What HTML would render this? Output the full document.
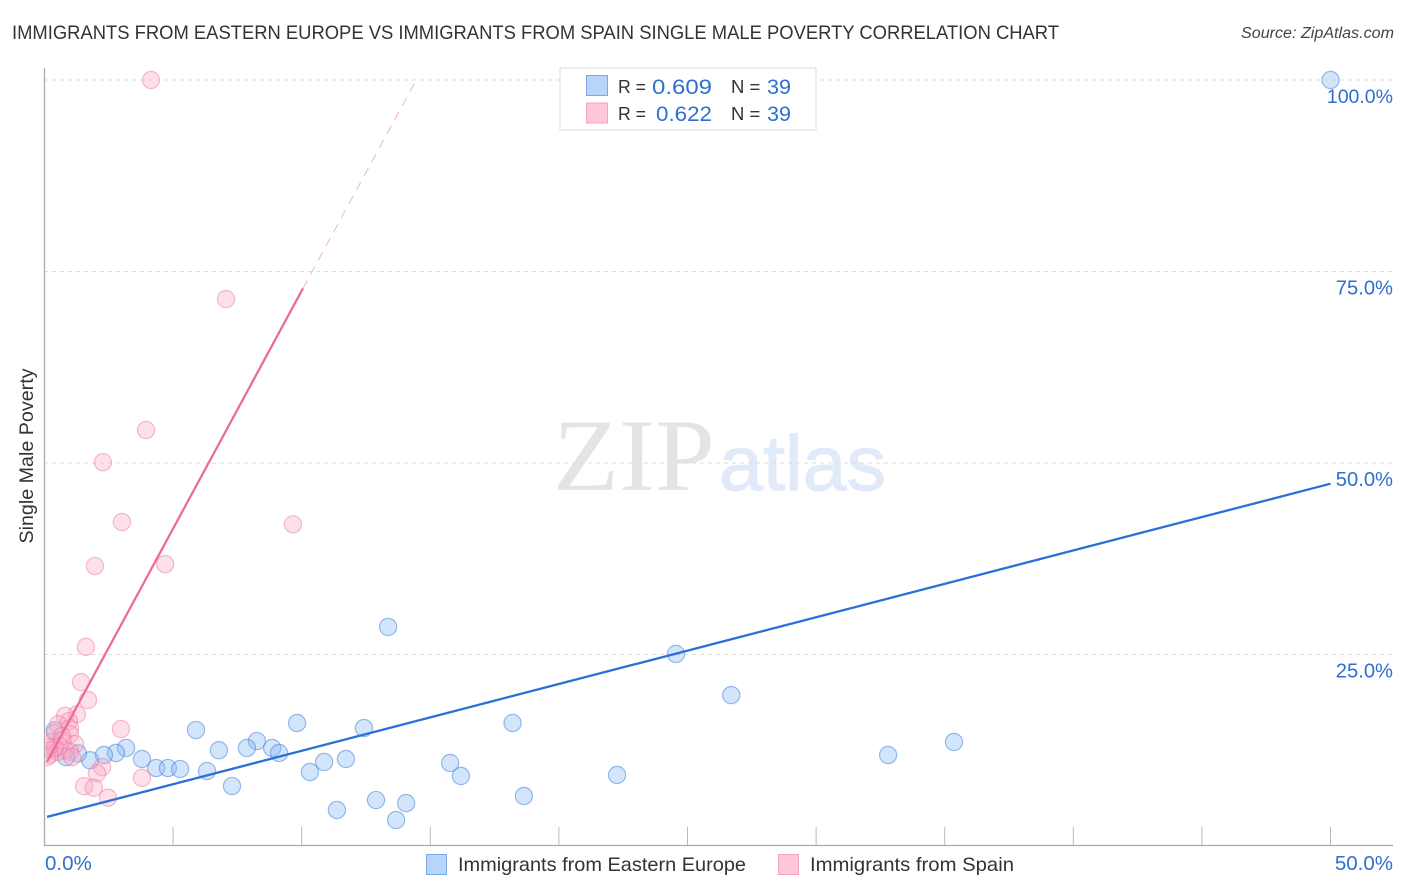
<!DOCTYPE html>
<html>
<head>
<meta charset="utf-8">
<style>
html,body{margin:0;padding:0;background:#fff;width:1406px;height:892px;overflow:hidden}
svg{display:block}
text{font-family:"Liberation Sans",sans-serif}
</style>
</head>
<body>
<svg id="chart" width="1406" height="892" viewBox="0 0 1406 892" xmlns="http://www.w3.org/2000/svg">
<defs><clipPath id="plot-clip"><rect x="45.5" y="60" width="1360" height="790"/></clipPath></defs>
<text x="12" y="39" font-size="19.5" fill="#333" textLength="1047" lengthAdjust="spacingAndGlyphs">IMMIGRANTS FROM EASTERN EUROPE VS IMMIGRANTS FROM SPAIN SINGLE MALE POVERTY CORRELATION CHART</text>
<text x="1394" y="38" font-size="15.5" font-style="italic" fill="#444" text-anchor="end" textLength="153" lengthAdjust="spacingAndGlyphs">Source: ZipAtlas.com</text>
<g id="watermark">
<text x="553" y="490" font-size="103" fill="#e4e4e4" textLength="162" lengthAdjust="spacingAndGlyphs" style="font-family:'Liberation Serif',serif">ZIP</text>
<text x="719" y="490" font-size="78" fill="#e0eaf8" stroke="#e0eaf8" stroke-width="1" textLength="167" lengthAdjust="spacingAndGlyphs">atlas</text>
</g>
<g id="grid"></g>
<g id="axes"></g>
<g id="series" clip-path="url(#plot-clip)"></g>
<g id="labels"></g>
<text transform="translate(33,456) rotate(-90)" font-size="19.7" fill="#333" text-anchor="middle">Single Male Poverty</text>
<g>
<rect x="560" y="68" width="256" height="62" fill="#fff" stroke="#ddd" stroke-width="1"/>
<rect x="586.5" y="75.5" width="21" height="20" fill="#b8d4f8" stroke="#7aa9e6"/>
<rect x="586.5" y="103" width="21" height="20" fill="#fcc8da" stroke="#f4a3bf"/>
<text x="618" y="93" font-size="18.5" fill="#333" textLength="28" lengthAdjust="spacingAndGlyphs">R =</text>
<text x="652" y="94" font-size="21.5" fill="#2f6fd0" textLength="60" lengthAdjust="spacingAndGlyphs">0.609</text>
<text x="731" y="93" font-size="18.5" fill="#333">N =</text>
<text x="767" y="94" font-size="21.5" fill="#2f6fd0" textLength="24" lengthAdjust="spacingAndGlyphs">39</text>
<text x="618" y="120" font-size="18.5" fill="#333" textLength="28" lengthAdjust="spacingAndGlyphs">R =</text>
<text x="656" y="121" font-size="21.5" fill="#2f6fd0" textLength="56" lengthAdjust="spacingAndGlyphs">0.622</text>
<text x="731" y="120" font-size="18.5" fill="#333">N =</text>
<text x="767" y="121" font-size="21.5" fill="#2f6fd0" textLength="24" lengthAdjust="spacingAndGlyphs">39</text>
</g>
<g>
<rect x="426.5" y="854.5" width="20" height="20" fill="#b8d4f8" stroke="#7aa9e6"/>
<text x="458" y="871" font-size="19.5" fill="#333" textLength="288" lengthAdjust="spacingAndGlyphs">Immigrants from Eastern Europe</text>
<rect x="778.5" y="854.5" width="20" height="20" fill="#fcc8da" stroke="#f4a3bf"/>
<text x="810" y="871" font-size="19.5" fill="#333" textLength="204" lengthAdjust="spacingAndGlyphs">Immigrants from Spain</text>
</g>
</svg>
<script>
var yTickValues = [25, 50, 75, 100];
var yTickLabels = ["25.0%", "50.0%", "75.0%", "100.0%"];
var xTickValues = [5, 10, 15, 20, 25, 30, 35, 40, 45, 50];
var xEndLabels = ["0.0%", "50.0%"];
var blueX = [50, 13.36, 24.55, 26.7, 18.2, 9.82, 5.89, 12.42, 35.36, 32.8, 8.26, 8.85, 7.87, 6.78, 9.12, 3.17, 2.78, 2.31, 3.79, 11.72, 10.87, 15.77, 4.34, 4.8, 5.27, 6.32, 10.32, 16.19, 22.26, 7.29, 18.64, 12.89, 14.06, 11.37, 13.67, 1.77, 1.3, 0.84, 0.4];
var blueY = [100, 28.6, 25.07, 19.7, 16.06, 16.06, 15.14, 15.4, 13.58, 11.88, 13.7, 12.8, 12.8, 12.5, 12.14, 12.8, 12.14, 11.88, 11.36, 11.36, 10.97, 10.84, 10.18, 10.18, 10.05, 9.79, 9.66, 9.14, 9.27, 7.83, 6.53, 6.0, 5.6, 4.7, 3.39, 11.2, 12.1, 11.6, 15.1];
var pinkX = [4.14, 7.06, 3.95, 2.27, 3.01, 9.66, 1.96, 4.69, 1.61, 1.42, 1.69, 2.97, 1.26, 0.8, 0.95, 0.53, 0.99, 0.99, 0.41, 0.68, 1.19, 0.29, 0.6, 0.21, 0.8, 0.53, 0.21, 0.99, 0.1, 1.07, 2.24, 2.04, 3.79, 1.54, 1.92, 2.47, 0.4, 0.15, 0.7];
var pinkY = [100, 71.4, 54.3, 50.1, 42.3, 42, 36.55, 36.8, 26, 21.4, 19.06, 15.27, 17.2, 17, 16.3, 15.9, 15.4, 14.6, 14.75, 14.36, 13.3, 13.6, 13.05, 12.5, 12.5, 12.3, 11.9, 12.3, 11.6, 11.6, 10.3, 9.5, 8.9, 7.8, 7.6, 6.3, 12.8, 12.9, 13.8];
var blueTrendX = [0.1, 50];
var blueTrendY = [3.8, 47.3];
var pinkTrendX = [0.1, 10.05];
var pinkTrendY = [11, 72.8];
var pinkDashX = [10.05, 14.5];
var pinkDashY = [72.8, 100.3];

var NS = 'http://www.w3.org/2000/svg';
function xScale(v) { return 44.5 + v * 25.72; }
function yScale(v) { return 846 - v * 7.66; }
function make(parent, tag, attrs, text) {
  var el = document.createElementNS(NS, tag);
  for (var k in attrs) el.setAttribute(k, attrs[k]);
  if (text !== undefined) el.textContent = text;
  document.getElementById(parent).appendChild(el);
  return el;
}
yTickValues.forEach(function (v, i) {
  var gl = make('grid', 'line', {x1: 44, x2: 1393, y1: yScale(v), y2: yScale(v), stroke: '#dcdcdc', 'stroke-width': 1, 'stroke-dasharray': '4 4'});
  
  
  var tl = make('labels', 'text', {x: 1393, y: yScale(v) + 23, 'font-size': v === 100 ? 19.5 : 20.2, fill: '#2f6fd0', 'text-anchor': 'end'}, yTickLabels[i]);
  
  
});
var la = make('axes', 'line', {x1: 44.5, x2: 44.5, y1: 68, y2: 845.5, stroke: '#aaa', 'stroke-width': 1.3});


var ba = make('axes', 'line', {x1: 44, x2: 1393, y1: 845.5, y2: 845.5, stroke: '#aaa', 'stroke-width': 1.3});


xTickValues.forEach(function (v) {
  var t = make('axes', 'line', {x1: xScale(v), x2: xScale(v), y1: 827, y2: 845, stroke: '#bbb', 'stroke-width': 1});
  
  
});
var xl0 = make('labels', 'text', {x: 45, y: 870, 'font-size': 20.5, fill: '#2f6fd0'}, xEndLabels[0]);


var xl1 = make('labels', 'text', {x: 1393, y: 870, 'font-size': 20.5, fill: '#2f6fd0', 'text-anchor': 'end'}, xEndLabels[1]);



blueX.forEach(function (v, i) {
  var c = make('series', 'circle', {cx: xScale(v), cy: yScale(blueY[i]), r: 8.6, fill: 'rgba(130,180,240,0.35)', stroke: 'rgba(60,125,215,0.5)', 'stroke-width': 1.2});
  
  
});
pinkX.forEach(function (v, i) {
  var c = make('series', 'circle', {cx: xScale(v), cy: yScale(pinkY[i]), r: 8.6, fill: 'rgba(248,165,195,0.35)', stroke: 'rgba(235,110,155,0.45)', 'stroke-width': 1.2});
  
  
});
var bt = make('series', 'line', {x1: xScale(blueTrendX[0]), y1: yScale(blueTrendY[0]), x2: xScale(blueTrendX[1]), y2: yScale(blueTrendY[1]), stroke: '#2a70d6', 'stroke-width': 2.3});


var pt = make('series', 'line', {x1: xScale(pinkTrendX[0]), y1: yScale(pinkTrendY[0]), x2: xScale(pinkTrendX[1]), y2: yScale(pinkTrendY[1]), stroke: '#ec6c98', 'stroke-width': 2.3});


var pd = make('series', 'line', {x1: xScale(pinkDashX[0]), y1: yScale(pinkDashY[0]), x2: xScale(pinkDashX[1]), y2: yScale(pinkDashY[1]), stroke: '#f0b4c8', 'stroke-width': 1, 'stroke-dasharray': '9 7'});


</script>
</body>
</html>
